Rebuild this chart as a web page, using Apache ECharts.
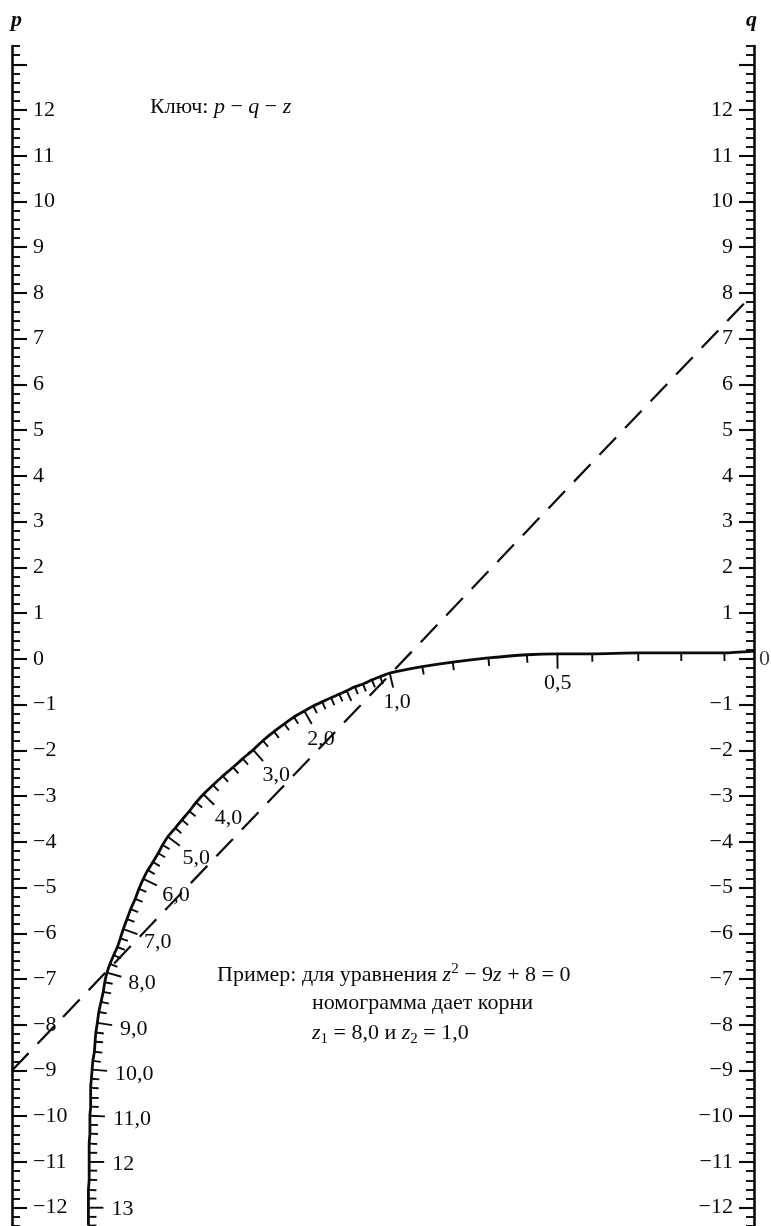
<!DOCTYPE html>
<html>
<head>
<meta charset="utf-8">
<title>Номограмма</title>
<script src="https://cdn.jsdelivr.net/npm/echarts@6/dist/echarts.min.js"></script>
<style>
  html, body { margin: 0; padding: 0; background: #fff; }
  #chart { width: 771px; height: 1226px; }
</style>
</head>
<body>
<div id="chart"></div>
<script>
// шкалы p (слева) и q (справа)
const pMajorTicks = [-12, -11, -10, -9, -8, -7, -6, -5, -4, -3, -2, -1, 0, 1, 2, 3, 4, 5, 6, 7, 8, 9, 10, 11, 12, 13];
const pLabelValues = [-12, -11, -10, -9, -8, -7, -6, -5, -4, -3, -2, -1, 0, 1, 2, 3, 4, 5, 6, 7, 8, 9, 10, 11, 12];
const qLabelValues = [-12, -11, -10, -9, -8, -7, -6, -5, -4, -3, -2, -1, 1, 2, 3, 4, 5, 6, 7, 8, 9, 10, 11, 12];

// кривая z: значение z, положение между осями (0 = p, 1 = q), высота в единицах p
const zValues = [0, 0.1, 0.2, 0.3, 0.4, 0.5, 0.6, 0.7, 0.8, 0.9,
  1.0, 1.1, 1.2, 1.3, 1.4, 1.5, 1.6, 1.7, 1.8, 1.9,
  2.0, 2.2, 2.4, 2.6, 2.8, 3.0, 3.2, 3.4, 3.6, 3.8,
  4.0, 4.2, 4.4, 4.6, 4.8, 5.0, 5.2, 5.4, 5.6, 5.8,
  6.0, 6.2, 6.4, 6.6, 6.8, 7.0, 7.2, 7.4, 7.6, 7.8,
  8.0, 8.2, 8.4, 8.6, 8.8, 9.0, 9.2, 9.4, 9.6, 9.8,
  10.0, 10.2, 10.4, 10.6, 10.8, 11.0, 11.2, 11.4, 11.6, 11.8,
  12.0, 12.2, 12.4, 12.6, 12.8, 13.0, 13.2, 13.4];
const zCurveX = [1.000, 0.960, 0.902, 0.844, 0.782, 0.735, 0.694, 0.642, 0.594, 0.553,
  0.509, 0.496, 0.485, 0.473, 0.462, 0.451, 0.441, 0.430, 0.418, 0.406,
  0.394, 0.380, 0.367, 0.353, 0.338, 0.325, 0.311, 0.298, 0.284, 0.271,
  0.258, 0.248, 0.239, 0.229, 0.220, 0.210, 0.203, 0.197, 0.190, 0.183,
  0.177, 0.171, 0.166, 0.160, 0.155, 0.150, 0.146, 0.142, 0.137, 0.132,
  0.128, 0.125, 0.123, 0.120, 0.117, 0.115, 0.113, 0.112, 0.111, 0.109,
  0.108, 0.107, 0.106, 0.106, 0.106, 0.105, 0.105, 0.105, 0.104, 0.104,
  0.104, 0.104, 0.104, 0.103, 0.103, 0.103, 0.103, 0.103];
const zCurveY = [0.17, 0.13, 0.13, 0.13, 0.11, 0.11, 0.09, 0.02, -0.07, -0.17,
  -0.31, -0.39, -0.46, -0.55, -0.61, -0.70, -0.77, -0.85, -0.94, -1.03,
  -1.14, -1.27, -1.42, -1.59, -1.79, -1.99, -2.18, -2.37, -2.56, -2.76,
  -2.96, -3.14, -3.33, -3.52, -3.70, -3.89, -4.07, -4.25, -4.44, -4.62,
  -4.81, -5.03, -5.25, -5.47, -5.69, -5.91, -6.11, -6.30, -6.48, -6.67,
  -6.86, -7.07, -7.28, -7.50, -7.72, -7.96, -8.17, -8.37, -8.59, -8.79,
  -8.98, -9.18, -9.38, -9.60, -9.79, -9.99, -10.19, -10.38, -10.60, -10.80,
  -11.00, -11.19, -11.39, -11.61, -11.80, -12.00, -12.20, -12.39];
const zLabelValues = [0.5, 1, 2, 3, 4, 5, 6, 7, 8, 9, 10, 11, 12, 13];
const zLabelTexts = ['0,5', '1,0', '2,0', '3,0', '4,0', '5,0', '6,0', '7,0', '8,0', '9,0', '10,0', '11,0', '12', '13'];

// пример: z^2 - 9z + 8 = 0
const exampleP = -9;
const exampleQ = 8;

const SERIF = '"Liberation Serif", serif';
const INK = '#0a0a0a';

function signed(v) {
    return v < 0 ? '\u2212' + Math.abs(v) : String(v);
}

function scaleAxes(position, labelValues) {
    let base = {
        type: 'value', position: position, min: -12.4, max: 13.4,
        splitLine: { show: false }
    };
    // мелкие деления через 0.2 и сама ось
    let minor = Object.assign({}, base, {
        interval: 0.2,
        axisLine: { show: true, onZero: false, lineStyle: { color: INK, width: 2.6 } },
        axisTick: { show: true, inside: true, length: 8, lineStyle: { color: INK, width: 1.9 } },
        axisLabel: { show: false }
    });
    // крупные деления и подписи
    let major = Object.assign({}, base, {
        axisLine: { show: false, onZero: false },
        axisTick: { show: true, inside: true, length: 15, customValues: pMajorTicks,
            lineStyle: { color: INK, width: 2.1 } },
        axisLabel: { show: true, inside: true, margin: 21, customValues: labelValues,
            formatter: signed, fontFamily: SERIF, fontSize: 22, color: INK }
    });
    return [minor, major];
}

let tickRows = [];
for (let k = 1; k < zValues.length; k++) {
    tickRows.push([zCurveX[k], zCurveY[k], zValues[k], k]);
}

function renderZTick(params, api) {
    let row = tickRows[params.dataIndex];
    let k = row[3];
    let p = api.coord([row[0], row[1]]);
    let a = api.coord([zCurveX[k - 1], zCurveY[k - 1]]);
    let kb = Math.min(k + 1, zValues.length - 1);
    let b = api.coord([zCurveX[kb], zCurveY[kb]]);
    let tx = b[0] - a[0], ty = b[1] - a[1];
    let len = Math.sqrt(tx * tx + ty * ty) || 1;
    tx /= len; ty /= len;
    let nx = ty, ny = -tx;
    let li = zLabelValues.indexOf(row[2]);
    let tl = li >= 0 ? 15 : (Math.abs(row[2] - 1.5) < 1e-6 ? 11 : 8);
    let children = [{
        type: 'line',
        shape: { x1: p[0], y1: p[1], x2: p[0] + nx * tl, y2: p[1] + ny * tl },
        style: { stroke: INK, lineWidth: 1.9 }
    }];
    if (li >= 0) {
        let text = zLabelTexts[li];
        let w = 0;
        for (let ch of text) w += ch === ',' ? 5.5 : 11;
        let d = tl + 2 + 6 * Math.max(nx, 0);
        children.push({
            type: 'text',
            x: p[0] + nx * d + nx * w / 2,
            y: p[1] + ny * d + ny * 10 + 2,
            style: { text: text, fill: INK, font: '22px ' + SERIF,
                align: 'center', verticalAlign: 'middle' }
        });
    }
    return { type: 'group', children: children };
}

// стили фрагментов для подписей
let rich = {
    r: { font: '22px ' + SERIF, fill: INK, lineHeight: 27 },
    i: { font: 'italic 22px ' + SERIF, fill: INK, lineHeight: 27 },
    sup: { font: '15px ' + SERIF, fill: INK, lineHeight: 15, verticalAlign: 'top' },
    sub: { font: '15px ' + SERIF, fill: INK, lineHeight: 15, verticalAlign: 'bottom' }
};

let chart = echarts.init(document.getElementById('chart'));

chart.setOption({
    animation: false,
    backgroundColor: '#fff',
    grid: { left: 12, right: 17, top: 46, bottom: 0 },
    xAxis: { type: 'value', min: 0, max: 1, show: false },
    yAxis: scaleAxes('left', pLabelValues).concat(scaleAxes('right', qLabelValues)),
    graphic: [
        { type: 'text', left: 11, top: 9, style: { text: 'p', fill: INK,
            font: 'italic bold 22px ' + SERIF } },
        { type: 'text', left: 746, top: 9, style: { text: 'q', fill: INK,
            font: 'italic bold 22px ' + SERIF } },
        { type: 'text', left: 150, top: 96, style: { rich: rich,
            text: '{r|Ключ: }{i|p}{r| \u2212 }{i|q}{r| \u2212 }{i|z}' } },
        { type: 'text', left: 217, top: 962, style: { rich: rich,
            text: '{r|Пример: для уравнения }{i|z}{sup|2}{r| \u2212 9}{i|z}{r| + 8 = 0}' } },
        { type: 'text', left: 312, top: 992, style: { rich: rich,
            text: '{r|номограмма дает корни}' } },
        { type: 'text', left: 312, top: 1022, style: { rich: rich,
            text: '{i|z}{sub|1}{r| = 8,0 и }{i|z}{sub|2}{r| = 1,0}' } }
    ],
    series: [
        {
            name: 'z',
            type: 'line',
            yAxisIndex: 0,
            data: zValues.map((z, i) => [zCurveX[i], zCurveY[i]]),
            showSymbol: false,
            smooth: 0.2,
            lineStyle: { color: INK, width: 2.8 },
            silent: true
        },
        {
            name: 'zTicks',
            type: 'custom',
            yAxisIndex: 0,
            data: tickRows,
            renderItem: renderZTick,
            silent: true
        },
        {
            name: 'example',
            type: 'line',
            yAxisIndex: 0,
            data: [[0, exampleP], [1, exampleQ]],
            showSymbol: false,
            lineStyle: { color: INK, width: 2.2, type: [24, 13] },
            silent: true
        },
        {
            name: 'q0',
            type: 'scatter',
            yAxisIndex: 2,
            data: [[1, 0]],
            symbolSize: 0,
            label: { show: true, position: 'right', distance: 5, formatter: '0',
                fontFamily: SERIF, fontSize: 22, color: INK },
            silent: true
        }
    ]
});
</script>
</body>
</html>
